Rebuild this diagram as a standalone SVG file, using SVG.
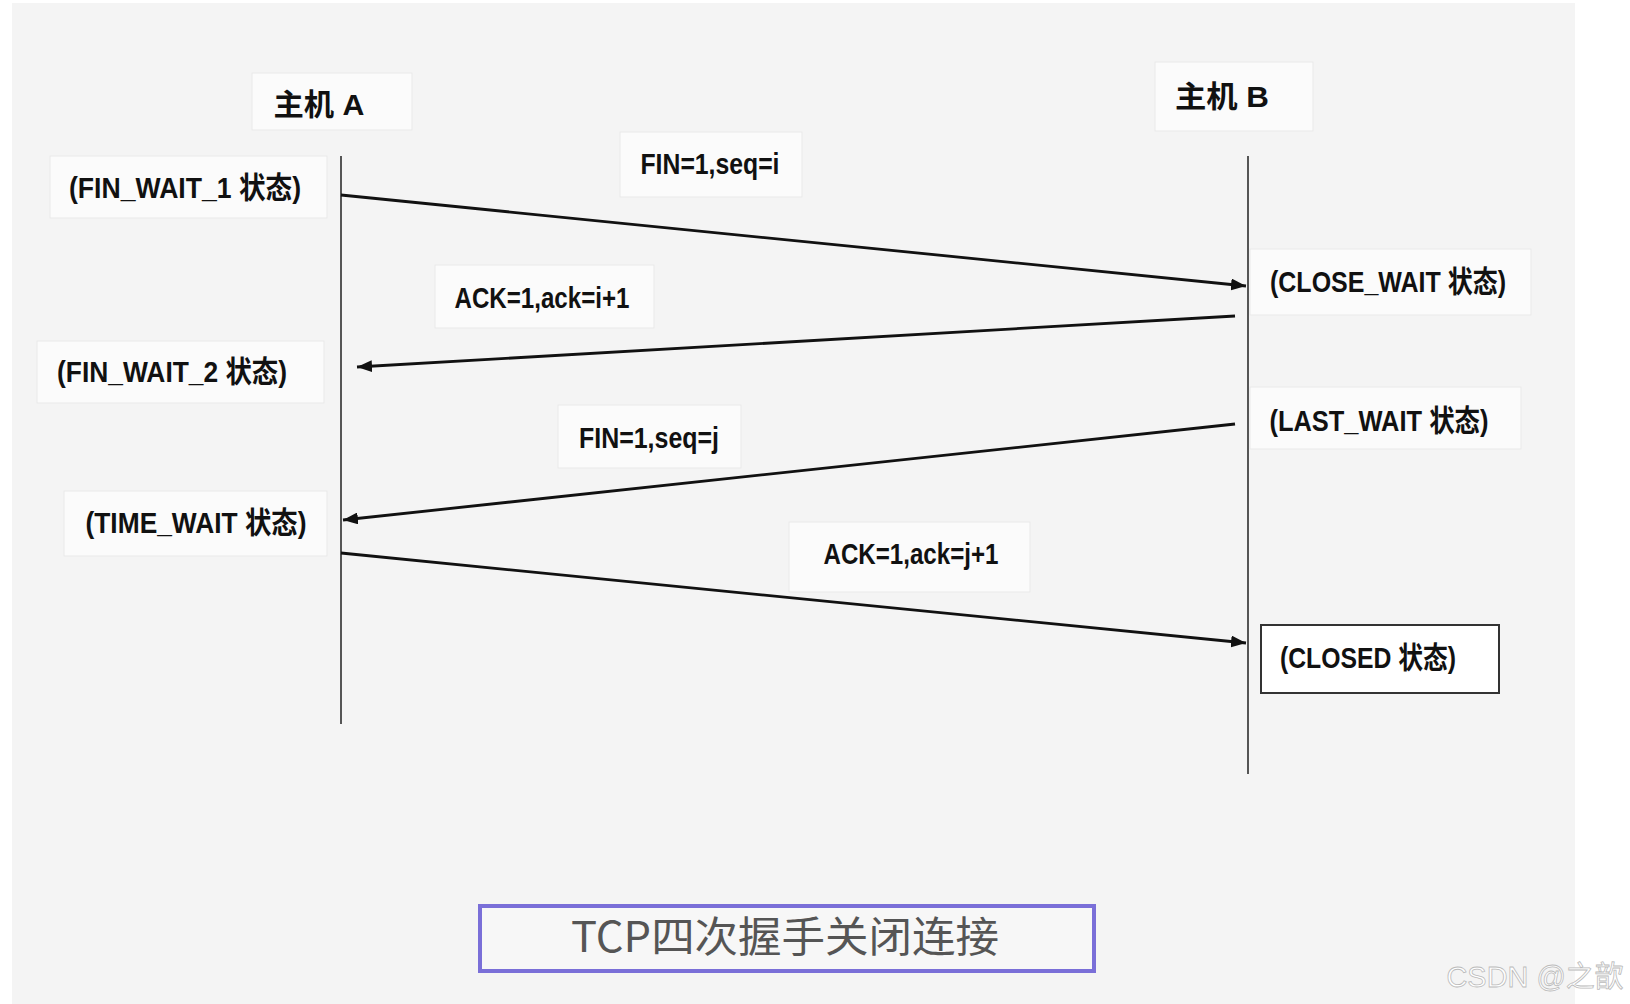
<svg xmlns="http://www.w3.org/2000/svg" width="1630" height="1004" viewBox="0 0 1630 1004">
<defs>
<style>
.bg{fill:#f4f4f4}
.nb{fill:#fbfbfb;stroke:#e9e9e9;stroke-width:1}
.t{font-family:"Liberation Sans","Noto Sans CJK SC",sans-serif;font-weight:bold;font-size:30px;fill:#111;text-anchor:middle;dominant-baseline:central}
.life{stroke:#555;stroke-width:2;fill:none}
.msg{stroke:#111;stroke-width:2.8;fill:none;marker-end:url(#ah)}
</style>
<marker id="ah" markerUnits="userSpaceOnUse" markerWidth="16" markerHeight="12" refX="15" refY="6" orient="auto">
<path d="M0,0 L15,6 L0,12 z" fill="#111"/>
</marker>
</defs>
<rect x="0" y="0" width="1630" height="1004" fill="#ffffff"/>
<rect class="bg" x="12" y="3" width="1563" height="1001"/>

<g id="lifelines">
<line class="life" x1="341" y1="156" x2="341" y2="724"/>
<line class="life" x1="1248" y1="156" x2="1248" y2="774"/>
</g>

<g id="hostA"><rect class="nb" x="252" y="73" width="160" height="57"/><text class="t" x="319" y="104" textLength="91" lengthAdjust="spacingAndGlyphs">主机 A</text></g>
<g id="hostB"><rect class="nb" x="1155" y="62" width="158" height="69"/><text class="t" x="1222" y="96" textLength="94" lengthAdjust="spacingAndGlyphs">主机 B</text></g>

<g id="finwait1"><rect class="nb" x="50" y="156" width="277" height="62"/><text class="t" x="185" y="187" textLength="232" lengthAdjust="spacingAndGlyphs">(FIN_WAIT_1 状态)</text></g>
<g id="lbl-fin-i"><rect class="nb" x="620" y="132" width="182" height="65"/><text class="t" x="710" y="163" textLength="139" lengthAdjust="spacingAndGlyphs">FIN=1,seq=i</text></g>
<g id="closewait"><rect class="nb" x="1250" y="249" width="281" height="66"/><text class="t" x="1388" y="281" textLength="236" lengthAdjust="spacingAndGlyphs">(CLOSE_WAIT 状态)</text></g>
<g id="lbl-ack-i"><rect class="nb" x="435" y="265" width="219" height="63"/><text class="t" x="542" y="297" textLength="175" lengthAdjust="spacingAndGlyphs">ACK=1,ack=i+1</text></g>
<g id="finwait2"><rect class="nb" x="37" y="341" width="287" height="62"/><text class="t" x="172" y="371" textLength="230" lengthAdjust="spacingAndGlyphs">(FIN_WAIT_2 状态)</text></g>
<g id="lbl-fin-j"><rect class="nb" x="558" y="405" width="183" height="63"/><text class="t" x="649" y="437" textLength="140" lengthAdjust="spacingAndGlyphs">FIN=1,seq=j</text></g>
<g id="lastwait"><rect class="nb" x="1250" y="387" width="271" height="62"/><text class="t" x="1379" y="420" textLength="219" lengthAdjust="spacingAndGlyphs">(LAST_WAIT 状态)</text></g>
<g id="timewait"><rect class="nb" x="64" y="491" width="263" height="65"/><text class="t" x="196" y="522" textLength="221" lengthAdjust="spacingAndGlyphs">(TIME_WAIT 状态)</text></g>
<g id="lbl-ack-j"><rect class="nb" x="789" y="522" width="241" height="70"/><text class="t" x="911" y="553" textLength="175" lengthAdjust="spacingAndGlyphs">ACK=1,ack=j+1</text></g>
<g id="closed"><rect x="1261" y="625" width="238" height="68" fill="#ffffff" stroke="#333" stroke-width="2"/><text class="t" x="1368" y="657" textLength="176" lengthAdjust="spacingAndGlyphs">(CLOSED 状态)</text></g>

<g id="connectors">
<line class="msg" x1="341" y1="195" x2="1246" y2="286"/>
<line class="msg" x1="1235" y1="316" x2="357" y2="367"/>
<line class="msg" x1="1235" y1="424" x2="343" y2="520"/>
<line class="msg" x1="341" y1="553" x2="1246" y2="643"/>
</g>

<g id="title"><rect x="480" y="906" width="614" height="65" fill="#f7f7f7" stroke="#7a6fd8" stroke-width="4"/><text x="785" y="933" font-family="'Noto Sans CJK SC',sans-serif" font-size="42" fill="#555" text-anchor="middle" dominant-baseline="central" textLength="428" lengthAdjust="spacingAndGlyphs">TCP四次握手关闭连接</text></g>

<text x="1535" y="987" font-family="'Liberation Sans','Noto Sans CJK SC',sans-serif" font-size="29" fill="#fff" stroke="#bbb" stroke-width="0.8" text-anchor="middle" textLength="177" lengthAdjust="spacingAndGlyphs">CSDN @之歆</text>
</svg>
